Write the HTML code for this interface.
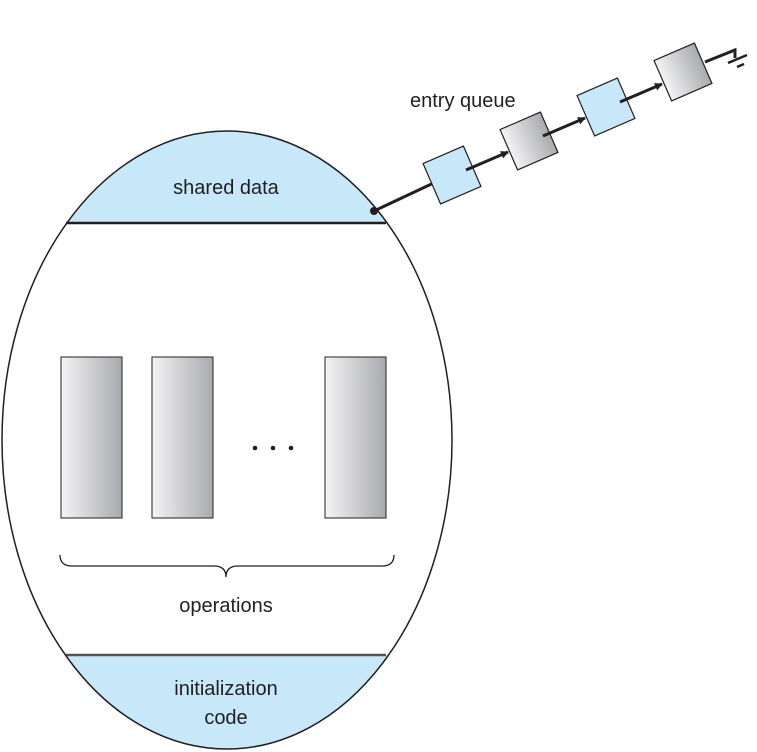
<!DOCTYPE html>
<html><head><meta charset="utf-8"><style>
html,body{margin:0;padding:0;background:#fff;}
svg{display:block;}
text{font-family:"Liberation Sans",sans-serif;font-size:20px;fill:#231f20;}
</style></head><body>
<svg width="757" height="752" viewBox="0 0 757 752" xmlns="http://www.w3.org/2000/svg">
<defs>
<linearGradient id="g" x1="0" y1="0" x2="1" y2="0">
<stop offset="0" stop-color="#f4f4f5"/><stop offset="1" stop-color="#a9aaad"/>
</linearGradient>
<clipPath id="ec"><ellipse cx="227" cy="440" rx="225" ry="309"/></clipPath>
<marker id="ah" markerWidth="8" markerHeight="8" refX="7" refY="4" orient="auto" markerUnits="userSpaceOnUse">
<path d="M0,0 L8,4 L0,8 Z" fill="#231f20"/></marker>
</defs>
<ellipse cx="227" cy="440" rx="225" ry="309" fill="#fff"/>
<g clip-path="url(#ec)">
<rect x="0" y="100" width="460" height="123" fill="#c7e8f8"/>
<rect x="0" y="655" width="460" height="100" fill="#c7e8f8"/>
</g>
<line x1="66" y1="223" x2="386" y2="223" stroke="#231f20" stroke-width="2.5"/>
<line x1="66" y1="655" x2="386" y2="655" stroke="#555" stroke-width="2.5"/>
<ellipse cx="227" cy="440" rx="225" ry="309" fill="none" stroke="#231f20" stroke-width="1.5"/>
<text x="226" y="194" text-anchor="middle">shared data</text>
<text x="226" y="612" text-anchor="middle">operations</text>
<text x="226" y="695" text-anchor="middle">initialization</text>
<text x="226" y="724" text-anchor="middle">code</text>
<rect x="61" y="357" width="61" height="161" fill="url(#g)" stroke="#231f20" stroke-width="1"/>
<rect x="152" y="357" width="61" height="161" fill="url(#g)" stroke="#231f20" stroke-width="1"/>
<rect x="325" y="357" width="61" height="161" fill="url(#g)" stroke="#231f20" stroke-width="1"/>
<circle cx="255" cy="448" r="2.3" fill="#231f20"/>
<circle cx="273" cy="448" r="2.3" fill="#231f20"/>
<circle cx="291" cy="448" r="2.3" fill="#231f20"/>
<path d="M60,555 Q60,566 72,566 L214,566 Q226,566 226,577 Q226,566 238,566 L382,566 Q394,566 394,555" fill="none" stroke="#231f20" stroke-width="1.3"/>
<text x="410" y="107">entry queue</text>
<line x1="374" y1="211" x2="440" y2="180" stroke="#231f20" stroke-width="3"/>
<circle cx="374" cy="211" r="4" fill="#231f20"/>
<g stroke="#231f20" stroke-width="1.2">
<rect x="-22" y="-22" width="44" height="44" fill="#c7e8f8" transform="translate(452,175) rotate(-23.5)"/>
<rect x="-22" y="-22" width="44" height="44" fill="url(#g)" transform="translate(529,141) rotate(-23.5)"/>
<rect x="-22" y="-22" width="44" height="44" fill="#c7e8f8" transform="translate(606,107) rotate(-23.5)"/>
<rect x="-22" y="-22" width="44" height="44" fill="url(#g)" transform="translate(683,72) rotate(-23.5)"/>
</g>
<g stroke="#231f20" stroke-width="3" fill="none">
<line x1="466" y1="170" x2="508" y2="152" marker-end="url(#ah)"/>
<line x1="543" y1="136" x2="585" y2="118" marker-end="url(#ah)"/>
<line x1="620" y1="102" x2="662" y2="84" marker-end="url(#ah)"/>
<polyline points="705,62 735,50 735,58"/>
<line x1="728" y1="63" x2="747" y2="55" stroke-width="2.5"/>
<line x1="737" y1="67" x2="744" y2="64" stroke-width="2.5"/>
</g>
</svg>
</body></html>
